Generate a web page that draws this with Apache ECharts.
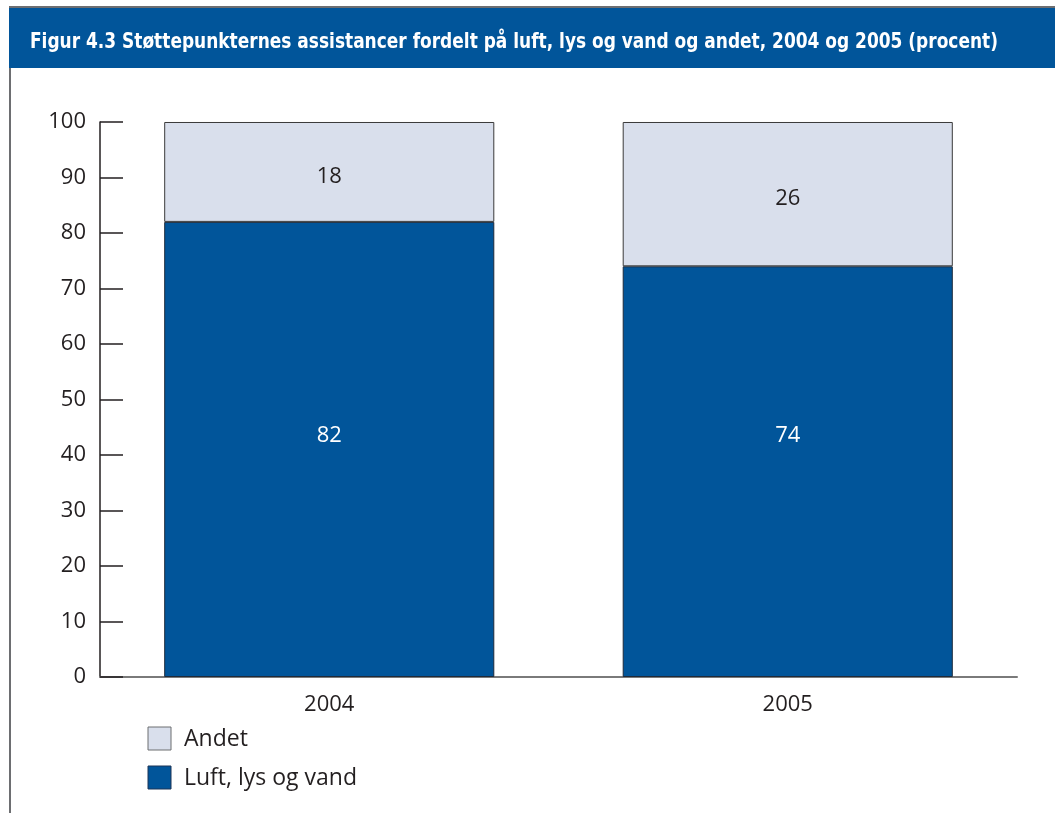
<!DOCTYPE html>
<html>
<head>
<meta charset="utf-8">
<script src="https://cdn.jsdelivr.net/npm/echarts@6/dist/echarts.min.js"></script>
<style>
  html, body { margin: 0; padding: 0; background: #fff; }
  #chart { width: 1055px; height: 813px; }
</style>
</head>
<body>
<div id="chart"></div>
<script>
// Figure data (percent)
const titleText = 'Figur 4.3 Støttepunkternes assistancer fordelt på luft, lys og vand og andet, 2004 og 2005 (procent)';
const years = ['2004', '2005'];
const luftLysVand = [82, 74];
const andet = [18, 26];
const yTicks = [0, 10, 20, 30, 40, 50, 60, 70, 80, 90, 100];

const DARK = '#01559a';
const LIGHT = '#d9dfec';
const TEXT = '#231f20';
const FONT = '"Open Sans", "Noto Sans", sans-serif';

const chart = echarts.init(document.getElementById('chart'), null, { renderer: 'canvas' });

chart.setOption({
  backgroundColor: '#fff',
  animation: false,
  graphic: [
    // frame: top rule, header band, left rule
    { type: 'rect', shape: { x: 9, y: 6, width: 1046, height: 2 }, style: { fill: '#6d6e71' }, silent: true },
    { type: 'rect', shape: { x: 9, y: 8, width: 1046, height: 60 }, style: { fill: DARK }, silent: true },
    { type: 'rect', shape: { x: 9, y: 68, width: 2, height: 745 }, style: { fill: '#6d6e71' }, silent: true },
    {
      type: 'text', x: 30, y: 43, scaleX: 0.9,
      style: {
        text: titleText, fill: '#fff', verticalAlign: 'middle',
        font: 'bold 21px "DejaVu Sans Condensed", "DejaVu Sans", sans-serif'
      },
      silent: true
    },
    // legend
    { type: 'rect', shape: { x: 148, y: 727, width: 23, height: 23 }, style: { fill: LIGHT, stroke: '#6d6e71', lineWidth: 1 } },
    { type: 'text', left: 184, top: 728, style: { text: 'Andet', fill: TEXT, font: '23px ' + FONT } },
    { type: 'rect', shape: { x: 148, y: 766, width: 23, height: 23 }, style: { fill: DARK, stroke: '#1d3557', lineWidth: 1 } },
    { type: 'text', left: 184, top: 767, style: { text: 'Luft, lys og vand', fill: TEXT, font: '23px ' + FONT } }
  ],
  grid: { left: 100, right: 38, top: 122, bottom: 136, containLabel: false },
  xAxis: {
    type: 'category',
    data: years,
    axisLine: { show: true, lineStyle: { color: '#7a7a7a', width: 2 } },
    axisTick: { show: false },
    axisLabel: { color: TEXT, fontFamily: FONT, fontSize: 22, margin: 17 }
  },
  yAxis: {
    type: 'value',
    min: 0, max: 100, interval: 10,
    axisLine: { show: true, lineStyle: { color: '#231f20', width: 1.5 } },
    axisTick: { show: true, inside: true, length: 23, lineStyle: { color: '#231f20', width: 1.5 } },
    splitLine: { show: false },
    axisLabel: {
      color: TEXT, fontFamily: FONT, fontSize: 22, margin: 14,
      formatter: v => (yTicks.includes(v) ? String(v) : '')
    }
  },
  series: [
    {
      name: 'Luft, lys og vand',
      type: 'bar',
      stack: 'total',
      data: luftLysVand,
      barWidth: '72%',
      itemStyle: { color: DARK, borderColor: '#1f2a3a', borderWidth: 1 },
      label: {
        show: true, position: 'insideBottom', distance: 230,
        color: '#fff', fontFamily: FONT, fontSize: 22
      }
    },
    {
      name: 'Andet',
      type: 'bar',
      stack: 'total',
      data: andet,
      barWidth: '72%',
      itemStyle: { color: LIGHT, borderColor: '#3a3a3a', borderWidth: 1 },
      label: {
        show: true, position: 'inside', offset: [0, 5],
        color: TEXT, fontFamily: FONT, fontSize: 22
      }
    }
  ]
});
</script>
</body>
</html>
